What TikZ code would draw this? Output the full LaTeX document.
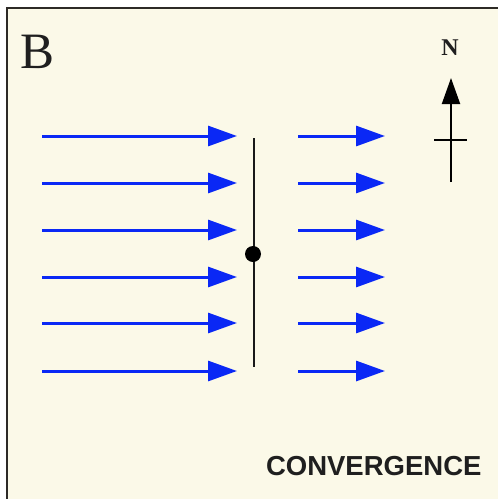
\documentclass[tikz,border=0pt]{standalone}
\usepackage{fontspec}
\setmainfont{Liberation Serif}
\newfontfamily\labelsans{Liberation Sans}
\usetikzlibrary{arrows.meta}
\definecolor{cream}{RGB}{251,249,232}
\definecolor{flowblue}{RGB}{10,40,245}
\definecolor{frame}{RGB}{45,42,38}
\tikzset{
  flow/.style={draw=flowblue, line width=3pt, -{Triangle[length=29pt,width=20pt]}},
  fault/.style={draw=black!90, line width=2pt},
}
\begin{document}
\begin{tikzpicture}[x=1pt,y=-1pt]
\useasboundingbox (0,0) rectangle (498,499);
\fill[cream] (7,8) rectangle (498,499);
\draw[frame, line width=2.5pt] (7,499) -- (7,8) -- (498,8);
\node[font=\fontsize{51}{51}\selectfont, text=black!88] (B) at (38,52) {B};
% north arrow
\node[font=\fontsize{24}{24}\selectfont\bfseries, text=black!88] (N) at (450,48) {N};
\coordinate (nbot) at (451,182);
\coordinate (ntop) at (451,78);
\coordinate (nl) at (434,140);
\coordinate (nr) at (467,140);
\draw[line width=2pt, -{Triangle[length=26pt,width=18pt]}] (nbot) -- (ntop);
\draw[line width=2pt] (nl) -- (nr);
% incoming flow
\foreach \y [count=\i] in {136,183,230,277,323,371}{
  \coordinate (a\i) at (42,\y);
  \coordinate (b\i) at (237,\y);
  \coordinate (c\i) at (298,\y);
  \coordinate (d\i) at (385,\y);
  \draw[flow] (a\i) -- (b\i);
  \draw[flow] (c\i) -- (d\i);
}
% fault line
\coordinate (ft) at (254,138);
\coordinate (fb) at (254,367);
\draw[fault] (ft) -- (fb);
\node[circle, fill=black, inner sep=0pt, minimum size=16pt] (dot) at (253,254) {};
\node[font=\labelsans\fontsize{27.5}{27.5}\selectfont\bfseries, text=black!88, anchor=east] (conv) at (485,466) {CONVERGENCE};
\end{tikzpicture}
\end{document}
